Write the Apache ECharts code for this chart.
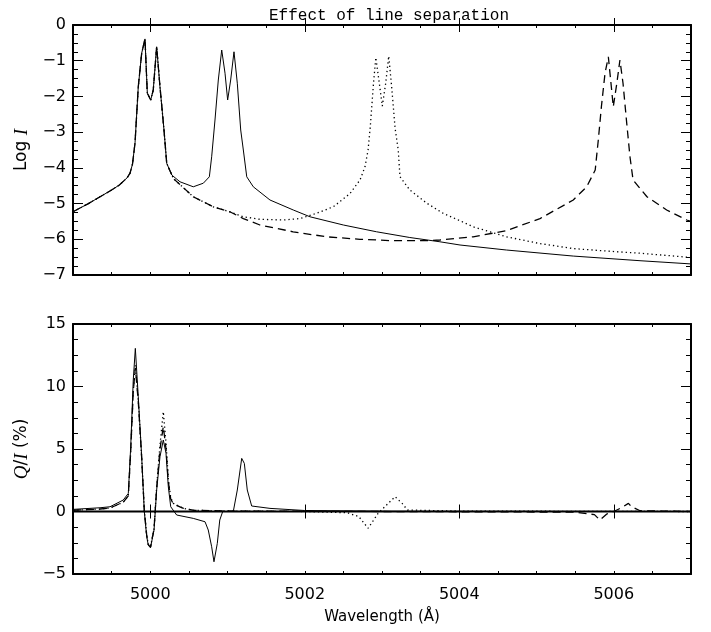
<!DOCTYPE html>
<html>
<head>
<meta charset="utf-8">
<script src="https://cdn.jsdelivr.net/npm/echarts@6/dist/echarts.min.js"></script>
<style>
  html, body { margin: 0; padding: 0; background: #fff; }
  #chart { width: 711px; height: 632px; }
</style>
</head>
<body>
<div id="chart"></div>
<script>
// wavelength ticks (Å)
const xMajorTicks = [5000, 5002, 5004, 5006];

// Log I, solid: lines at 5000 and 5001
const solidIWave = [4999.00, 4999.20, 4999.35, 4999.50, 4999.60, 4999.70, 4999.738, 4999.77, 4999.803, 4999.845,
  4999.889, 4999.932, 4999.962, 5000.006, 5000.039, 5000.083, 5000.126, 5000.178, 5000.213, 5000.278,
  5000.385, 5000.557, 5000.687, 5000.765, 5000.795, 5000.838, 5000.881, 5000.925, 5000.968, 5001.002,
  5001.041, 5001.084, 5001.127, 5001.171, 5001.205, 5001.249, 5001.334, 5001.550, 5001.852, 5002.068,
  5002.500, 5002.930, 5003.360, 5003.750, 5004.010, 5004.610, 5005.476, 5006.340, 5007.00];
const solidILog = [-5.23, -5.00, -4.81, -4.62, -4.48, -4.28, -4.15, -3.90, -3.30, -1.73,
  -0.79, -0.39, -1.91, -2.10, -1.82, -0.61, -1.73, -2.94, -3.87, -4.20,
  -4.39, -4.53, -4.43, -4.25, -3.69, -2.66, -1.54, -0.70, -1.35, -2.10,
  -1.54, -0.75, -1.63, -2.94, -3.50, -4.25, -4.53, -4.90, -5.18, -5.37,
  -5.60, -5.79, -5.95, -6.07, -6.16, -6.30, -6.47, -6.60, -6.69];

// Log I, dotted: lines at 5000 and 5003
const dottedIWave = [4999.00, 4999.20, 4999.35, 4999.50, 4999.60, 4999.70, 4999.738, 4999.77, 4999.803, 4999.845,
  4999.889, 4999.932, 4999.962, 5000.006, 5000.039, 5000.083, 5000.126, 5000.178, 5000.213, 5000.300,
  5000.557, 5000.816, 5001.030, 5001.205, 5001.420, 5001.720, 5001.940, 5002.155, 5002.370, 5002.586,
  5002.715, 5002.780, 5002.820, 5002.850, 5002.890, 5002.920, 5002.965, 5003.004, 5003.048, 5003.087,
  5003.125, 5003.170, 5003.210, 5003.233, 5003.360, 5003.580, 5003.790, 5004.010, 5004.180, 5004.610,
  5005.045, 5005.476, 5005.910, 5006.340, 5007.00];
const dottedILog = [-5.23, -5.00, -4.81, -4.62, -4.48, -4.28, -4.15, -3.90, -3.30, -1.73,
  -0.79, -0.39, -1.91, -2.10, -1.82, -0.61, -1.73, -2.94, -3.87, -4.30,
  -4.81, -5.09, -5.23, -5.37, -5.44, -5.46, -5.42, -5.27, -5.09, -4.72,
  -4.34, -3.97, -3.50, -2.80, -1.63, -0.91, -1.63, -2.27, -1.63, -0.87,
  -1.73, -2.90, -3.50, -4.25, -4.62, -4.99, -5.27, -5.48, -5.65, -5.93,
  -6.12, -6.26, -6.33, -6.39, -6.51];

// Log I, dashed: lines at 5000 and 5006
const dashedIWave = [4999.00, 4999.20, 4999.35, 4999.50, 4999.60, 4999.70, 4999.738, 4999.77, 4999.803, 4999.845,
  4999.889, 4999.932, 4999.962, 5000.006, 5000.039, 5000.083, 5000.126, 5000.178, 5000.213, 5000.300,
  5000.557, 5000.816, 5001.030, 5001.205, 5001.420, 5001.850, 5002.280, 5002.715, 5003.146, 5003.580,
  5003.750, 5004.180, 5004.610, 5005.045, 5005.476, 5005.650, 5005.760, 5005.800, 5005.840, 5005.887,
  5005.930, 5005.960, 5005.994, 5006.040, 5006.080, 5006.120, 5006.168, 5006.210, 5006.250, 5006.430,
  5006.685, 5006.944, 5007.00];
const dashedILog = [-5.23, -5.00, -4.81, -4.62, -4.48, -4.28, -4.15, -3.90, -3.30, -1.73,
  -0.79, -0.39, -1.91, -2.10, -1.82, -0.61, -1.73, -2.94, -3.87, -4.30,
  -4.81, -5.09, -5.23, -5.42, -5.60, -5.79, -5.93, -6.00, -6.04, -6.04,
  -6.02, -5.93, -5.76, -5.42, -4.90, -4.53, -4.06, -3.22, -2.29, -1.35,
  -0.89, -1.54, -2.29, -1.63, -0.98, -1.63, -2.75, -3.69, -4.34, -4.81,
  -5.18, -5.46, -5.50];

// Q/I (%), solid
const solidQWave = [4999.00, 4999.35, 4999.479, 4999.651, 4999.716, 4999.747, 4999.780, 4999.807, 4999.845, 4999.889,
  4999.923, 4999.954, 4999.975, 5000.003, 5000.025, 5000.049, 5000.083, 5000.126, 5000.169, 5000.204,
  5000.234, 5000.265, 5000.342, 5000.557, 5000.709, 5000.751, 5000.795, 5000.825, 5000.868, 5000.900,
  5000.938, 5001.075, 5001.127, 5001.184, 5001.218, 5001.256, 5001.313, 5001.550, 5002.000, 5003.000,
  5007.00];
const solidQ = [0.17, 0.30, 0.38, 0.92, 1.45, 5.18, 10.52, 13.05, 9.18, 4.38,
  0.00, -2.00, -2.70, -2.90, -2.75, -1.48, 1.72, 4.38, 5.72, 4.66,
  1.98, 0.38, -0.28, -0.55, -0.82, -1.48, -2.82, -4.02, -2.55, -0.68,
  0.00, 0.00, 1.72, 4.25, 3.85, 1.72, 0.44, 0.25, 0.08, 0.02,
  0.00];

// Q/I (%), dotted
const dottedQWave = [4999.00, 4999.35, 4999.479, 4999.651, 4999.716, 4999.747, 4999.780, 4999.807, 4999.845, 4999.889,
  4999.923, 4999.954, 4999.975, 5000.003, 5000.025, 5000.049, 5000.083, 5000.126, 5000.169, 5000.204,
  5000.234, 5000.265, 5000.300, 5000.430, 5000.557, 5001.000, 5002.000, 5002.550, 5002.700, 5002.820,
  5002.950, 5003.080, 5003.170, 5003.260, 5003.330, 5004.000, 5007.00];
const dottedQ = [0.10, 0.20, 0.28, 0.75, 1.25, 4.80, 9.60, 11.7, 8.90, 4.30,
  0.10, -1.90, -2.65, -2.85, -2.70, -1.40, 2.00, 5.30, 7.98, 5.50,
  2.60, 1.10, 0.65, 0.25, 0.10, 0.04, 0.00, -0.10, -0.41, -1.34,
  -0.15, 0.65, 1.18, 0.65, 0.12, 0.03, 0.00];

// Q/I (%), dashed
const dashedQWave = [4999.00, 4999.35, 4999.479, 4999.651, 4999.716, 4999.747, 4999.780, 4999.807, 4999.845, 4999.889,
  4999.923, 4999.954, 4999.975, 5000.003, 5000.025, 5000.049, 5000.083, 5000.126, 5000.169, 5000.204,
  5000.234, 5000.265, 5000.300, 5000.430, 5000.557, 5001.000, 5005.500, 5005.750, 5005.820, 5005.910,
  5006.000, 5006.100, 5006.190, 5006.230, 5006.340, 5007.00];
const dashedQ = [0.10, 0.20, 0.28, 0.75, 1.25, 4.80, 9.60, 11.5, 8.80, 4.30,
  0.10, -1.90, -2.65, -2.85, -2.70, -1.40, 1.90, 5.00, 6.80, 5.00,
  2.40, 1.00, 0.60, 0.25, 0.10, 0.04, -0.05, -0.25, -0.68, -0.20,
  0.00, 0.30, 0.65, 0.38, 0.06, 0.00];

// zero reference line on the Q/I panel
const zeroWave = [4999, 5007];
const zeroQ = [0, 0];

const pairs = (xs, ys) => xs.map((x, i) => [x, ys[i]]);
const minus = (v) => String(v).replace('-', '\u2212');

const chart = echarts.init(document.getElementById('chart'), null, { renderer: 'canvas' });

const labelFont = { color: '#000', fontSize: 16, fontFamily: 'DejaVu Sans' };

// the four x axes of one panel (minor/major ticks, bottom/top)
const xAxesFor = (grid, withLabels) => {
  const base = { type: 'value', gridIndex: grid, min: 4999, max: 5007, splitLine: { show: false } };
  return [
    { ...base, position: 'bottom', interval: 0.5,
      axisLine: { show: true, onZero: false, lineStyle: { color: '#000', width: 2 } },
      axisTick: { show: true, inside: true, length: 3, lineStyle: { color: '#000' } },
      axisLabel: { show: false } },
    { ...base, position: 'bottom',
      axisLine: { show: false },
      axisTick: { show: true, inside: true, length: 7, customValues: xMajorTicks, lineStyle: { color: '#000' } },
      axisLabel: withLabels
        ? { show: true, customValues: xMajorTicks, margin: 13, formatter: (v) => String(v), ...labelFont }
        : { show: false },
      name: withLabels ? 'Wavelength (Å)' : '',
      nameLocation: 'middle', nameGap: 36,
      nameTextStyle: { color: '#000', fontSize: 15, fontFamily: 'DejaVu Sans' } },
    { ...base, position: 'top', interval: 0.5,
      axisLine: { show: true, onZero: false, lineStyle: { color: '#000', width: 2 } },
      axisTick: { show: true, inside: true, length: 3, lineStyle: { color: '#000' } },
      axisLabel: { show: false } },
    { ...base, position: 'top',
      axisLine: { show: false },
      axisTick: { show: true, inside: true, length: 7, customValues: xMajorTicks, lineStyle: { color: '#000' } },
      axisLabel: { show: false } }
  ];
};

const yAxesFor = (grid, min, max, minorStep, majorStep, name, rich) => {
  const base = { type: 'value', gridIndex: grid, min: min, max: max, splitLine: { show: false } };
  return [
    { ...base, position: 'left', interval: minorStep,
      axisLine: { show: true, onZero: false, lineStyle: { color: '#000', width: 2 } },
      axisTick: { show: true, inside: true, length: 5, lineStyle: { color: '#000' } },
      axisLabel: { show: false } },
    { ...base, position: 'left', interval: majorStep,
      axisLine: { show: false },
      axisTick: { show: true, inside: true, length: 10, lineStyle: { color: '#000' } },
      axisLabel: { show: true, margin: 7, formatter: minus, showMinLabel: true, showMaxLabel: true, ...labelFont },
      name: name, nameLocation: 'middle', nameGap: 42, nameRotate: 90,
      nameTextStyle: { color: '#000', fontSize: 17, fontFamily: 'DejaVu Sans', rich: rich } },
    { ...base, position: 'right', interval: minorStep,
      axisLine: { show: true, onZero: false, lineStyle: { color: '#000', width: 2 } },
      axisTick: { show: true, inside: true, length: 5, lineStyle: { color: '#000' } },
      axisLabel: { show: false } },
    { ...base, position: 'right', interval: majorStep,
      axisLine: { show: false },
      axisTick: { show: true, inside: true, length: 10, lineStyle: { color: '#000' } },
      axisLabel: { show: false } }
  ];
};

const italic = { i: { fontStyle: 'italic', fontFamily: 'Liberation Serif', fontSize: 19, color: '#000' } };

const line = (data, xIdx, yIdx, type, width) => ({
  type: 'line',
  data: data,
  xAxisIndex: xIdx,
  yAxisIndex: yIdx,
  showSymbol: false,
  symbol: 'none',
  smooth: false,
  lineStyle: { color: '#000', width: width || 1, type: type || 'solid' },
  silent: true
});

chart.setOption({
  animation: false,
  backgroundColor: '#fff',
  title: {
    text: 'Effect of line separation',
    left: 384, top: 3, textAlign: 'center',
    textStyle: { color: '#000', fontSize: 16, fontWeight: 'normal', fontFamily: 'Liberation Mono' }
  },
  grid: [
    { left: 73, top: 25, width: 618, height: 250 },
    { left: 73, top: 324, width: 618, height: 250 }
  ],
  xAxis: [...xAxesFor(0, false), ...xAxesFor(1, true)],
  yAxis: [
    ...yAxesFor(0, -7, 0, 0.25, 1, 'Log {i|I}', italic),
    ...yAxesFor(1, -5, 15, 1.25, 5, '{i|Q}/{i|I} (%)', italic)
  ],
  series: [
    line(pairs(solidIWave, solidILog), 0, 0, 'solid', 1),
    line(pairs(dottedIWave, dottedILog), 0, 0, [1.3, 3], 1.3),
    line(pairs(dashedIWave, dashedILog), 0, 0, [8, 5], 1.3),
    line(pairs(zeroWave, zeroQ), 4, 4, 'solid', 2),
    line(pairs(solidQWave, solidQ), 4, 4, 'solid', 1),
    line(pairs(dottedQWave, dottedQ), 4, 4, [1.3, 3], 1.3),
    line(pairs(dashedQWave, dashedQ), 4, 4, [8, 5], 1.3)
  ]
});
</script>
</body>
</html>
